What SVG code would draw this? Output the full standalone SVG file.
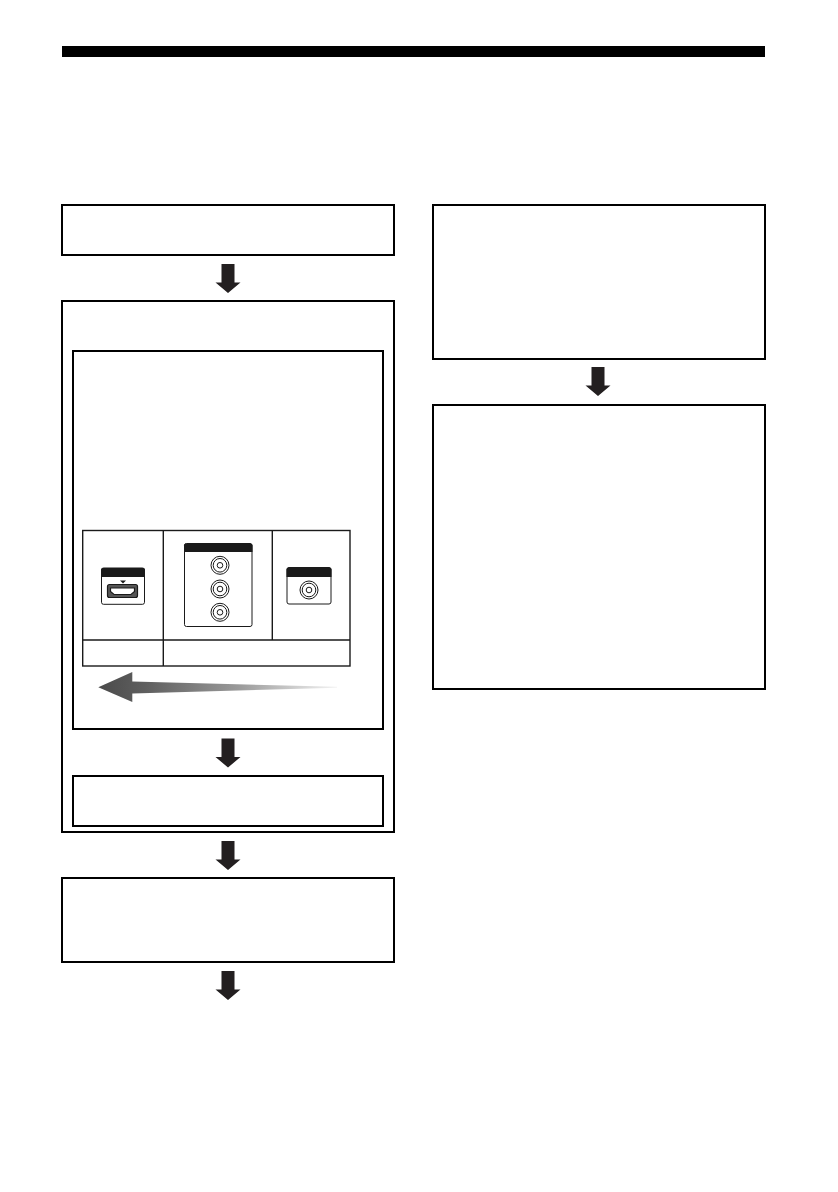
<svg xmlns="http://www.w3.org/2000/svg" width="838" height="1192" viewBox="0 0 838 1192">
<style>
.box{fill:#fff;stroke:#000;stroke-width:2}
.cell{fill:none;stroke:#1a1a1a;stroke-width:1.400}
.panel{fill:#fff;stroke:#1a1a1a;stroke-width:1}
.head{fill:#1a1a1a}
.ring{fill:none;stroke:#1a1a1a;stroke-width:1}
</style>
<defs>
<path id="down" d="M-6.500 0H6.500V18.500H12.500L0 29L-12.500 18.500H-6.500Z" fill="#231f20"/>
<linearGradient id="fade" gradientUnits="userSpaceOnUse" x1="98" y1="0" x2="337" y2="0">
<stop offset="0" stop-color="#4a4a4a"/><stop offset="0.2" stop-color="#5f5f5f"/><stop offset="0.6" stop-color="#9c9c9c"/><stop offset="1" stop-color="#f4f4f4"/>
</linearGradient>
<g id="jack"><circle class="ring" r="9"/><circle class="ring" r="6.800"/><circle class="ring" r="2.800"/></g>
</defs>
<rect id="title-bar" x="62" y="46" width="703" height="11" fill="#000"/>
<g id="node-1"><rect class="box" x="62" y="205" width="332" height="50"/></g>
<g id="node-2"><rect class="box" x="62" y="301" width="332" height="531"/></g>
<g id="node-2a"><rect class="box" x="73" y="351" width="310" height="378"/>
<g id="input-table">
<rect class="cell" x="82.700" y="530.500" width="267.300" height="135.500"/>
<path class="cell" d="M82.700 640H350M163.300 530.500V666M272.300 530.500V640"/>
<g id="hdmi">
<rect class="panel" x="101.500" y="568" width="43" height="36.300" rx="2"/>
<path class="head" d="M101 570a2 2 0 0 1 2-2H143a2 2 0 0 1 2 2V577H101Z"/>
<path class="head" d="M120 580.500H126L123 583.500Z"/>
<rect x="107.500" y="584.500" width="30" height="13" rx="2" fill="#555" stroke="#1a1a1a" stroke-width="1.200"/>
<path d="M110.500 588H134.500V591.500L131 594.500H114L110.500 591.500Z" fill="#fff" stroke="#1a1a1a" stroke-width="1.200"/>
</g>
<g id="component">
<rect class="panel" x="184.500" y="543.500" width="67.500" height="83" rx="2"/>
<path class="head" d="M184 545.500a2 2 0 0 1 2-2H250.500a2 2 0 0 1 2 2V552H184Z"/>
<use href="#jack" x="220" y="565.300"/><use href="#jack" x="220" y="589"/><use href="#jack" x="220" y="612.300"/>
</g>
<g id="video">
<rect class="panel" x="287" y="567.500" width="44" height="36.500" rx="2"/>
<path class="head" d="M286.500 569.500a2 2 0 0 1 2-2H329.500a2 2 0 0 1 2 2V577H286.500Z"/>
<use href="#jack" x="309" y="590"/>
</g>
</g>
<path id="quality-arrow" d="M98.300 687.300L132.300 672V681.500L337 686.800V687.800L132.300 693.500V702Z" fill="url(#fade)"/>
</g>
<g id="node-2b"><rect class="box" x="73" y="776" width="310" height="50"/></g>
<g id="node-3"><rect class="box" x="62" y="878" width="332" height="84"/></g>
<g id="node-4"><rect class="box" x="433" y="205" width="332" height="154"/></g>
<g id="node-5"><rect class="box" x="433" y="405" width="332" height="284"/></g>
<g id="connectors">
<use href="#down" x="228" y="264"/>
<use href="#down" x="228" y="738.500"/>
<use href="#down" x="228" y="841"/>
<use href="#down" x="228" y="971"/>
<use href="#down" x="598" y="367"/>
</g>
</svg>
